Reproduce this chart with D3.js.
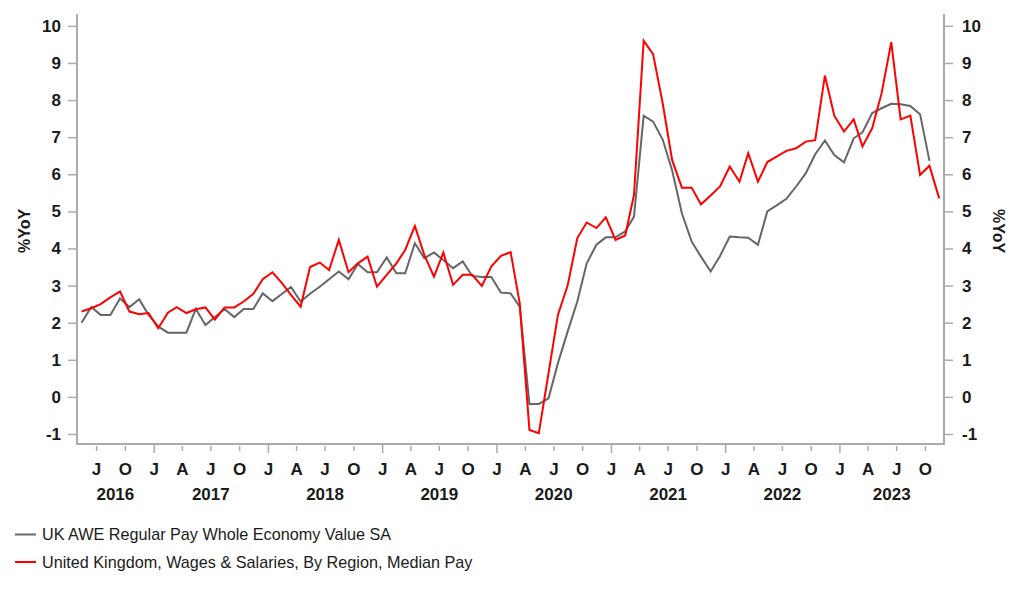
<!DOCTYPE html>
<html>
<head>
<meta charset="utf-8">
<script src="https://cdn.jsdelivr.net/npm/d3@7"></script>
<style>
  html, body { margin: 0; padding: 0; background: #fff; }
  svg { display: block; font-family: "Liberation Sans", Arial, sans-serif; }
</style>
</head>
<body>
<svg id="chart" width="1022" height="597"></svg>
<script>
// ---- data ----
const startMonth = "2016-05";   // first monthly observation
const seriesNames = [
  "UK AWE Regular Pay Whole Economy Value SA",
  "United Kingdom, Wages & Salaries, By Region, Median Pay"
];
const seriesColors = ["#666666", "#ff0000"];
// UK AWE regular pay, %YoY (May 2016 – Oct 2023)
const aweValues = [
  2.0, 2.42, 2.21, 2.21, 2.65, 2.42, 2.63, 2.21,
  1.9, 1.73, 1.73, 1.73, 2.37, 1.94, 2.15, 2.37, 2.15, 2.37, 2.37, 2.79, 2.58, 2.78, 2.96, 2.57,
  2.78, 2.97, 3.17, 3.38, 3.17, 3.58, 3.36, 3.36, 3.76, 3.33, 3.33, 4.14,
  3.74, 3.89, 3.69, 3.47, 3.65, 3.26, 3.23, 3.23, 2.81, 2.79, 2.43, -0.19,
  -0.19, -0.04, 0.91, 1.76, 2.57, 3.6, 4.1, 4.3, 4.3, 4.46, 4.86, 7.58,
  7.42, 6.93, 6.1, 4.95, 4.19, 3.78, 3.38, 3.8, 4.32, 4.3, 4.29, 4.1,
  5.0, 5.17, 5.34, 5.67, 6.03, 6.54, 6.91, 6.52, 6.32, 6.97, 7.13, 7.65,
  7.78, 7.9, 7.89, 7.84, 7.62, 6.36
];
// UK median pay (PAYE RTI), %YoY (May 2016 – Nov 2023)
const medianValues = [
  2.3, 2.39, 2.5, 2.68, 2.84, 2.3, 2.23, 2.26,
  1.85, 2.27, 2.42, 2.26, 2.36, 2.41, 2.08, 2.41, 2.41, 2.57, 2.78, 3.17, 3.36, 3.06, 2.75, 2.43,
  3.5, 3.62, 3.42, 4.23, 3.36, 3.6, 3.78, 2.97, 3.29, 3.6, 3.96, 4.61,
  3.83, 3.24, 3.89, 3.02, 3.29, 3.29, 2.99, 3.51, 3.8, 3.9, 2.52, -0.89,
  -0.98, 0.64, 2.21, 3.0, 4.28, 4.7, 4.55, 4.84, 4.23, 4.35, 5.44, 9.6,
  9.24, 7.9, 6.38, 5.64, 5.64, 5.19, 5.43, 5.67, 6.21, 5.8, 6.57, 5.8,
  6.33, 6.48, 6.63, 6.7, 6.88, 6.92, 8.66, 7.58, 7.15, 7.48, 6.75, 7.24,
  8.18, 9.56, 7.48, 7.58, 5.98, 6.23, 5.35
];
const yTicks = [-1, 0, 1, 2, 3, 4, 5, 6, 7, 8, 9, 10];
const monthLetters = ["J", "F", "M", "A", "M", "J", "J", "A", "S", "O", "N", "D"];
const yearLabels = [2016, 2017, 2018, 2019, 2020, 2021, 2022, 2023];
const yTitle = "%YoY";

// ---- layout ----
const L = 77, R = 944, T = 14, B = 444;
const svg = d3.select("#chart");

const [sy, sm] = startMonth.split("-").map(Number);
const monthDate = i => new Date(Date.UTC(sy, sm - 1 + i, 15, 12));

const x = d3.scaleUtc()
  .domain([new Date(Date.UTC(2016, 4, 1)), new Date(Date.UTC(2023, 11, 1))])
  .range([L, R]);
const y = d3.scaleLinear().domain([-1.27, 10.32]).range([B, T]);

const axisColor = "#ababab";
const textColor = "#1a1a1a";
const fmt = d => String(d);

// left / right axes
const yAxisL = d3.axisLeft(y).tickValues(yTicks).tickFormat(fmt).tickSize(9).tickSizeOuter(0).tickPadding(7);
const gL = svg.append("g").attr("transform", `translate(${L},0)`).call(yAxisL);
const yAxisR = d3.axisRight(y).tickValues(yTicks).tickFormat(fmt).tickSize(9).tickSizeOuter(0).tickPadding(9);
const gR = svg.append("g").attr("transform", `translate(${R},0)`).call(yAxisR);
[gL, gR].forEach(g => {
  g.select(".domain").attr("d", `M0,${T}V${B}`).attr("stroke", axisColor).attr("stroke-width", 2);
  g.selectAll(".tick line").attr("stroke", axisColor).attr("stroke-width", 1.5);
  g.selectAll(".tick text").attr("fill", textColor).attr("font-size", 17).attr("font-weight", "bold")
    .attr("font-family", "'Liberation Sans', Arial, sans-serif");
});

// bottom axis
const qTicks = d3.utcMonth.every(3).range(x.domain()[0], x.domain()[1]).filter(d => d >= x.domain()[0] && d.getUTCMonth() % 3 === 0);
const xAxis = d3.axisBottom(x).tickValues(qTicks).tickSizeOuter(0)
  .tickFormat(d => monthLetters[d.getUTCMonth()]);
const gB = svg.append("g").attr("transform", `translate(0,${B})`).call(xAxis);
gB.select(".domain").attr("d", `M${L - 1},0H${R + 1}`).attr("stroke", axisColor).attr("stroke-width", 2);
gB.selectAll(".tick line")
  .attr("stroke", axisColor).attr("stroke-width", 1.5)
  .attr("y1", d => d.getUTCMonth() === 0 ? 0 : 2)
  .attr("y2", d => d.getUTCMonth() === 0 ? 9 : 7);
gB.selectAll(".tick text").attr("y", 19).attr("dy", "0.71em")
  .attr("fill", textColor).attr("font-size", 17).attr("font-weight", "bold")
  .attr("font-family", "'Liberation Sans', Arial, sans-serif");

// year labels centred on visible part of each year
svg.append("g").selectAll("text").data(yearLabels).join("text")
  .attr("x", yr => {
    const a = Math.max(x(new Date(Date.UTC(yr, 0, 1))), L);
    const b = Math.min(x(new Date(Date.UTC(yr + 1, 0, 1))), R);
    return (a + b) / 2;
  })
  .attr("y", 500)
  .attr("text-anchor", "middle")
  .attr("fill", textColor).attr("font-size", 17).attr("font-weight", "bold")
  .text(d => d);

// axis titles
svg.append("text")
  .attr("transform", `translate(30,${231}) rotate(-90)`)
  .attr("text-anchor", "middle").attr("fill", textColor)
  .attr("font-size", 16).attr("font-weight", "bold").text(yTitle);
svg.append("text")
  .attr("transform", `translate(993,${231}) rotate(90)`)
  .attr("text-anchor", "middle").attr("fill", textColor)
  .attr("font-size", 16).attr("font-weight", "bold").text(yTitle);

// lines
const line = d3.line().x((d, i) => x(monthDate(i))).y(d => y(d));
[aweValues, medianValues].forEach((vals, k) => {
  svg.append("path").datum(vals)
    .attr("fill", "none").attr("stroke", seriesColors[k]).attr("stroke-width", 2)
    .attr("stroke-linejoin", "miter").attr("d", line);
});

// legend
const lg = svg.append("g");
seriesNames.forEach((name, k) => {
  const yy = 534.5 + k * 27.5;
  lg.append("line").attr("x1", 15).attr("x2", 36).attr("y1", yy).attr("y2", yy)
    .attr("stroke", seriesColors[k]).attr("stroke-width", 2);
  lg.append("text").attr("x", 42).attr("y", yy).attr("dy", "0.35em")
    .attr("fill", textColor).attr("font-size", 16.2).text(name);
});
</script>
</body>
</html>
